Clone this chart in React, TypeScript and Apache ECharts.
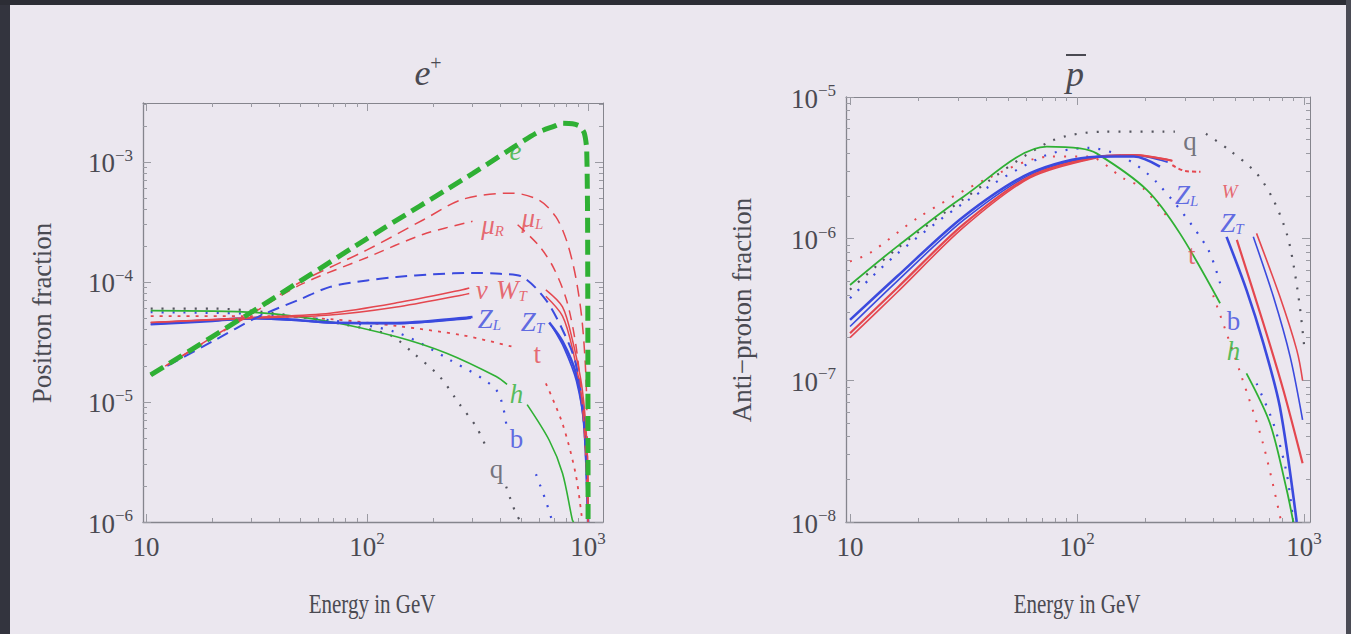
import React, { useEffect, useRef } from "react";
import * as echarts from "echarts";

// ---------- Left panel: positron fraction vs energy (GeV) ----------
const eE = [10.5, 30, 100, 300, 580, 700, 766, 850, 910, 960, 985, 995, 1000];
const eF = [1.68e-5, 5.6e-5, 2.3e-4, 8.0e-4, 1.73e-3, 1.98e-3, 2.1e-3, 2.08e-3, 2.0e-3, 1.75e-3, 1.3e-3, 3e-4, 1e-6];

const muLE = [10.5, 30, 50, 100, 180, 272, 456, 600, 714, 800, 879, 942, 982, 1000];
const muLF = [1.68e-5, 5.5e-5, 1.0e-4, 1.85e-4, 3.3e-4, 4.9e-4, 5.5e-4, 4.8e-4, 3.5e-4, 2.2e-4, 1.1e-4, 4.5e-5, 1.3e-5, 1e-6];

const muRE = [10.5, 30, 50, 100, 180, 300, null, 480, 600, 700, 800, 880, 940, 980, 1000];
const muRF = [1.68e-5, 5.4e-5, 9.5e-5, 1.6e-4, 2.5e-4, 3.2e-4, null, 3.0e-4, 2.0e-4, 1.3e-4, 7e-5, 3e-5, 1e-5, 3e-6, 1e-6];

const tauE = [10.5, 20, 32, 50, 68, 100, 136, 200, 301, 400, 506, 644, 766, 879, 959, 1000];
const tauF = [1.68e-5, 3.2e-5, 5.1e-5, 7.2e-5, 9.1e-5, 1.03e-4, 1.1e-4, 1.16e-4, 1.19e-4, 1.17e-4, 1.1e-4, 7.1e-5, 4.0e-5, 2.1e-5, 6.6e-6, 1e-6];

const nuE = [10.5, 32, 68, 136, 270, 290, null, 644, 766, 849, 942, 993, 1000];
const nuF = [4.6e-5, 5.1e-5, 5.5e-5, 6.7e-5, 8.6e-5, 8.9e-5, null, 8.6e-5, 6.2e-5, 3.3e-5, 1.26e-5, 3.5e-6, 1e-6];

const wtE = [10.5, 32, 68, 136, 270, 290, null, 644, 766, 849, 942, 993, 1000];
const wtF = [4.6e-5, 5.0e-5, 5.3e-5, 6.2e-5, 7.8e-5, 8.0e-5, null, 7.6e-5, 5.2e-5, 2.8e-5, 1.0e-5, 3e-6, 1e-6];

const zlE = [10.5, 20, 32, 50, 68, 136, 270, 300, null, 667, 766, 880, 959, 1000];
const zlF = [4.5e-5, 4.8e-5, 5.0e-5, 4.8e-5, 4.6e-5, 4.55e-5, 5.0e-5, 5.1e-5, null, 4.6e-5, 3.2e-5, 1.74e-5, 6.7e-6, 1e-6];

const ztE = [10.5, 20, 32, 50, 68, 136, 270, 295, null, 690, 780, 885, 962, 1000];
const ztF = [4.4e-5, 4.7e-5, 4.95e-5, 4.75e-5, 4.55e-5, 4.5e-5, 4.9e-5, 5.0e-5, null, 4.2e-5, 2.8e-5, 1.5e-5, 6e-6, 1e-6];

const tE = [10.5, 32, 68, 136, 270, 450, null, 644, 766, 879, 942];
const tF = [5.2e-5, 5.2e-5, 4.9e-5, 4.3e-5, 3.6e-5, 2.9e-5, null, 1.43e-5, 6.6e-6, 2.5e-6, 1e-6];

const hE = [10.5, 32, 68, 136, 229, 384, 430, null, 530, 667, 766, 849, 860];
const hF = [5.77e-5, 5.55e-5, 4.67e-5, 3.5e-5, 2.55e-5, 1.63e-5, 1.4e-5, null, 9.5e-6, 4.8e-6, 2.55e-6, 1.04e-6, 1e-6];

const qE = [10.5, 20, 32, 50, 80, 127, 162, 213, 262, 312, 346, null, 426, 472, 498];
const qF = [6.0e-5, 6.0e-5, 5.7e-5, 5.1e-5, 4.4e-5, 3.6e-5, 2.55e-5, 1.63e-5, 9.6e-6, 6.2e-6, 4.2e-6, null, 1.97e-6, 1.17e-6, 1e-6];

const bE = [10.5, 32, 68, 136, 237, 384, 426, null, 581, 644, 690];
const bF = [5.6e-5, 5.4e-5, 4.8e-5, 3.8e-5, 2.24e-5, 1.26e-5, 6.6e-6, null, 2.5e-6, 1.5e-6, 1e-6];

// ---------- Right panel: anti-proton fraction vs energy (GeV) ----------
const pqE = [10, 15.8, 31.6, 75.9, 132, 240, 270, null, 370, 468, 617, 733, 839, 897, 959, 1000];
const pqF = [4.37e-7, 8.3e-7, 1.9e-6, 4.84e-6, 5.69e-6, 5.69e-6, 5.7e-6, null, 5.5e-6, 4.23e-6, 2.9e-6, 1.88e-6, 1.09e-6, 6.7e-7, 3.3e-7, 1.8e-7];

const phE = [10, 16.1, 31.6, 73.5, 103, 122, 203, 284, 427, null, 558, 708, 839, 897];
const phF = [4.71e-7, 8.79e-7, 1.98e-6, 4.46e-6, 4.34e-6, 4.0e-6, 2.21e-6, 1.09e-6, 3.5e-7, null, 1.12e-7, 4.98e-8, 1.69e-8, 1.0e-8];

const pzlE = [10, 16.1, 31.6, 62.1, 122, 178, 232, null, 456, 558, 662, 783, 929];
const pzlF = [2.67e-7, 5.4e-7, 1.43e-6, 2.9e-6, 3.79e-6, 3.8e-6, 3.23e-6, null, 1.03e-6, 4.35e-7, 1.83e-7, 6.5e-8, 1e-8];

const pwE = [10, 16.1, 31.6, 62.1, 122, 178, 263, null, 506, 662, 811, 986];
const pwF = [2.15e-7, 4.47e-7, 1.26e-6, 2.75e-6, 3.76e-6, 3.89e-6, 3.55e-6, null, 9.8e-7, 2.53e-7, 8.55e-8, 2.6e-8];

const pztE = [10, 16.1, 31.6, 62.1, 122, 178, 251, null, 598, 733, 869, 986];
const pztF = [2.4e-7, 5.0e-7, 1.35e-6, 2.82e-6, 3.8e-6, 3.89e-6, 3.47e-6, null, 1.03e-6, 3.9e-7, 1.47e-7, 5.26e-8];

const pwtE = [10, 16.1, 31.6, 62.1, 122, 178, 263, null, 618, 783, 929, 986];
const pwtF = [2.0e-7, 4.17e-7, 1.2e-6, 2.69e-6, 3.72e-6, 3.89e-6, 3.55e-6, null, 1.09e-6, 3.9e-7, 1.64e-7, 1.0e-7];

const pwdE = [263, 300, 350];
const pwdF = [3.3e-6, 3.0e-6, 2.97e-6];

const ptE = [10, 12.2, 20, 39.8, 75.9, 112, 160, 196, 251, null, 398, 525, 661, 794];
const ptF = [6.9e-7, 7.9e-7, 1.41e-6, 2.63e-6, 3.8e-6, 3.8e-6, 2.67e-6, 2.26e-6, 1.41e-6, null, 3.98e-7, 1.12e-7, 3.55e-8, 1e-8];

const pbE = [10, 15.8, 31.6, 70.8, 112, 158, 224, 372, 427, null, 618, 733, 839, 897];
const pbF = [3.8e-7, 7.6e-7, 1.78e-6, 3.8e-6, 4.37e-6, 3.8e-6, 2.51e-6, 8.8e-7, 4.84e-7, null, 9.5e-8, 4.98e-8, 2.21e-8, 1e-8];

// ---------- Curve labels ----------
const leftLabels = [
  { E: 469, F: 1.26e-3, text: "{a|e}", color: "green" },
  { E: 370, F: 3.1e-4, text: "{a|μ}{sb|R}", color: "red" },
  { E: 560, F: 3.48e-4, text: "{a|μ}{sb|L}", color: "red" },
  { E: 330, F: 8.9e-5, text: "{a|ν}", color: "red" },
  { E: 450, F: 8.9e-5, text: "{a|W}{sb|T}", color: "red" },
  { E: 358, F: 5.1e-5, text: "{a|Z}{sb|L}", color: "blue" },
  { E: 560, F: 4.8e-5, text: "{a|Z}{sb|T}", color: "blue" },
  { E: 589, F: 2.56e-5, text: "{u|t}", color: "red" },
  { E: 474, F: 1.19e-5, text: "{a|h}", color: "green" },
  { E: 474, F: 5.1e-6, text: "{u|b}", color: "blue" },
  { E: 385, F: 2.87e-6, text: "{u|q}", color: "dark" },
];
const rightLabels = [
  { E: 315, F: 4.98e-6, text: "{u|q}", color: "dark" },
  { E: 304, F: 2.09e-6, text: "{a|Z}{sb|L}", color: "blue" },
  { E: 470, F: 2.2e-6, text: "{w|W}", color: "red" },
  { E: 481, F: 1.32e-6, text: "{a|Z}{sb|T}", color: "blue" },
  { E: 320, F: 7.9e-7, text: "{u|t}", color: "red" },
  { E: 489, F: 2.67e-7, text: "{u|b}", color: "blue" },
  { E: 489, F: 1.64e-7, text: "{a|h}", color: "green" },
];

// ---------- Axis ticks ----------
const xMajor = [10, 100, 1000];
const xMinor = [20, 30, 40, 50, 60, 70, 80, 90, 200, 300, 400, 500, 600, 700, 800, 900];
const yLMajor = [1e-6, 1e-5, 1e-4, 1e-3];
const yLMinor = [2e-6, 3e-6, 4e-6, 5e-6, 6e-6, 7e-6, 8e-6, 9e-6, 2e-5, 3e-5, 4e-5, 5e-5, 6e-5, 7e-5, 8e-5, 9e-5, 2e-4, 3e-4, 4e-4, 5e-4, 6e-4, 7e-4, 8e-4, 9e-4, 2e-3, 3e-3];
const yRMajor = [1e-8, 1e-7, 1e-6, 1e-5];
const yRMinor = [2e-8, 3e-8, 4e-8, 5e-8, 6e-8, 7e-8, 8e-8, 9e-8, 2e-7, 3e-7, 4e-7, 5e-7, 6e-7, 7e-7, 8e-7, 9e-7, 2e-6, 3e-6, 4e-6, 5e-6, 6e-6, 7e-6, 8e-6, 9e-6];

const FONT = '"Liberation Serif", "Times New Roman", serif';
const INK = "#4a4a52";
const FRAME = "#85858d";
const TICK = "#9a9aa2";
const COLORS: Record<string, string> = { red: "#e4474f", blue: "#3b4ade", green: "#2fb034", dark: "#55555f" };
const BG = "#ebe7ef";

function pts(E: (number | null)[], F: (number | null)[]) {
  return E.map((x, i) => (x === null || F[i] === null ? ["-", "-"] : [x, F[i]]));
}

function line(g: number, E: any[], F: any[], color: string, width: number, type: any, z = 3, smooth = 0.3) {
  return {
    type: "line",
    xAxisIndex: 4 * g,
    yAxisIndex: 4 * g,
    data: pts(E, F),
    symbol: "none",
    showSymbol: false,
    smooth,
    connectNulls: false,
    silent: true,
    clip: true,
    z,
    lineStyle: { color, width, type, cap: "butt" },
  };
}

function labelSeries(g: number, labels: any[]) {
  return {
    type: "scatter",
    xAxisIndex: 4 * g,
    yAxisIndex: 4 * g,
    symbolSize: 1,
    itemStyle: { color: "rgba(0,0,0,0)" },
    silent: true,
    z: 6,
    data: labels.map((l) => {
      const c = COLORS[l.color];
      return {
        value: [l.E, l.F],
        label: {
          show: true,
          position: "inside",
          formatter: l.text,
          rich: {
            a: { fontFamily: FONT, fontStyle: "italic", fontSize: 27, color: c, verticalAlign: "bottom", lineHeight: 30 },
            u: { fontFamily: FONT, fontSize: 27, color: c, verticalAlign: "bottom", lineHeight: 30 },
            w: { fontFamily: FONT, fontStyle: "italic", fontSize: 19, color: c, verticalAlign: "bottom", lineHeight: 22 },
            sb: { fontFamily: FONT, fontStyle: "italic", fontSize: 15, color: c, verticalAlign: "bottom" },
          },
        },
      };
    }),
  };
}

const labelRich = {
  n: { fontFamily: FONT, fontSize: 27, color: INK, verticalAlign: "bottom", lineHeight: 30 },
  s: { fontFamily: FONT, fontSize: 17, color: INK, verticalAlign: "top" },
};

function xFmt(v: number) {
  const p = Math.round(Math.log10(v));
  return p === 1 ? "{n|10}" : "{n|10}{s|" + p + "}";
}
function yFmt(v: number) {
  const p = Math.round(Math.log10(v));
  return "{n|10}{s|−" + -p + "}";
}

function axes(g: number, dim: "x" | "y", min: number, max: number, major: number[], minor: number[], fmt: any, margin: number) {
  const common: any = { type: "log", logBase: 10, gridIndex: g, min, max, splitLine: { show: false }, silent: true };
  const posA = dim === "x" ? "bottom" : "left";
  const posB = dim === "x" ? "top" : "right";
  return [
    {
      ...common,
      position: posA,
      axisLine: { show: true, onZero: false, lineStyle: { color: FRAME, width: 1.3 } },
      axisTick: { show: true, inside: true, length: 8, customValues: major, lineStyle: { color: TICK } },
      axisLabel: { show: true, customValues: major, formatter: fmt, rich: labelRich, margin },
    },
    {
      ...common,
      position: posA,
      axisLine: { show: false, onZero: false },
      axisTick: { show: true, inside: true, length: 4, customValues: minor, lineStyle: { color: TICK } },
      axisLabel: { show: false, customValues: minor },
    },
    {
      ...common,
      position: posB,
      axisLine: { show: true, onZero: false, lineStyle: { color: FRAME, width: 1 } },
      axisTick: { show: true, inside: true, length: 8, customValues: major, lineStyle: { color: TICK } },
      axisLabel: { show: false, customValues: major },
    },
    {
      ...common,
      position: posB,
      axisLine: { show: false, onZero: false },
      axisTick: { show: true, inside: true, length: 4, customValues: minor, lineStyle: { color: TICK } },
      axisLabel: { show: false, customValues: minor },
    },
  ];
}

export default function App() {
  const ref = useRef<HTMLDivElement>(null);
  useEffect(() => {
    if (!ref.current) return;
    const chart = echarts.init(ref.current, null, { renderer: "svg" });
    const R = COLORS.red, B = COLORS.blue, G = COLORS.green, D = COLORS.dark;
    const option: any = {
      animation: false,
      backgroundColor: BG,
      grid: [
        { left: 143, top: 103, width: 460, height: 419, containLabel: false },
        { left: 846, top: 97, width: 464, height: 425, containLabel: false },
      ],
      xAxis: [
        ...axes(0, "x", 9.69, 1168, xMajor, xMinor, xFmt, 8),
        ...axes(1, "x", 9.6, 1063, xMajor, xMinor, xFmt, 8),
      ],
      yAxis: [
        ...axes(0, "y", 1e-6, 3.1e-3, yLMajor, yLMinor, yFmt, 10),
        ...axes(1, "y", 1e-8, 1e-5, yRMajor, yRMinor, yFmt, 10),
      ],
      series: [
        // left
        line(0, qE, qF, D, 2.2, [2, 9]),
        line(0, bE, bF, B, 2.2, [2, 9]),
        line(0, tE, tF, R, 1.8, [3, 6]),
        line(0, hE, hF, G, 1.6, "solid"),
        line(0, ztE, ztF, B, 1.6, "solid"),
        line(0, zlE, zlF, B, 2.6, "solid"),
        line(0, wtE, wtF, R, 1.5, "solid"),
        line(0, nuE, nuF, R, 1.5, "solid"),
        line(0, tauE, tauF, B, 2, [12, 7]),
        line(0, muRE, muRF, R, 1.5, [10, 7]),
        line(0, muLE, muLF, R, 1.5, [12, 7]),
        line(0, eE, eF, G, 5, [15, 7], 5, 0.2),
        labelSeries(0, leftLabels),
        // right
        line(1, pqE, pqF, D, 2.2, [2, 9]),
        line(1, pbE, pbF, B, 2.2, [2, 9]),
        line(1, ptE, ptF, R, 2, [2, 9]),
        line(1, phE, phF, G, 1.8, "solid"),
        line(1, pwtE, pwtF, R, 1.6, "solid"),
        line(1, pztE, pztF, B, 1.6, "solid"),
        line(1, pwE, pwF, R, 2.2, "solid"),
        line(1, pzlE, pzlF, B, 2.6, "solid"),
        line(1, pwdE, pwdF, R, 2, [4, 3]),
        labelSeries(1, rightLabels),
      ],
      graphic: [
        { type: "rect", shape: { x: 0, y: 0, width: 10, height: 634 }, style: { fill: "#33343e" }, silent: true },
        { type: "rect", shape: { x: 0, y: 0, width: 1351, height: 5 }, style: { fill: "#2c2d35" }, silent: true },
        { type: "rect", shape: { x: 1346, y: 0, width: 5, height: 634 }, style: { fill: "#4a4b55" }, silent: true },
        {
          type: "text",
          x: 428,
          y: 72,
          style: {
            text: "{i|e}{s|+}",
            align: "center",
            verticalAlign: "middle",
            rich: {
              i: { fontFamily: FONT, fontStyle: "italic", fontSize: 36, fill: INK, verticalAlign: "bottom", lineHeight: 38 },
              s: { fontFamily: FONT, fontSize: 20, fill: INK, verticalAlign: "top" },
            },
          },
          silent: true,
        },
        {
          type: "text",
          x: 1075,
          y: 74,
          style: { text: "p", fontFamily: FONT, fontStyle: "italic", fontSize: 36, fill: INK, align: "center", verticalAlign: "middle" },
          silent: true,
        },
        { type: "line", shape: { x1: 1066, y1: 55, x2: 1086, y2: 55 }, style: { stroke: INK, lineWidth: 2 }, silent: true },
        {
          type: "text",
          x: 42,
          y: 313,
          rotation: Math.PI / 2,
          style: { text: "Positron fraction", fontFamily: FONT, fontSize: 27, fill: INK, align: "center", verticalAlign: "middle" },
          silent: true,
        },
        {
          type: "text",
          x: 742,
          y: 310,
          rotation: Math.PI / 2,
          style: { text: "Anti−proton fraction", fontFamily: FONT, fontSize: 27, fill: INK, align: "center", verticalAlign: "middle" },
          silent: true,
        },
        {
          type: "text",
          x: 372,
          y: 604,
          scaleY: 1.25,
          style: { text: "Energy in GeV", fontFamily: FONT, fontSize: 21, fill: INK, align: "center", verticalAlign: "middle" },
          silent: true,
        },
        {
          type: "text",
          x: 1077,
          y: 604,
          scaleY: 1.25,
          style: { text: "Energy in GeV", fontFamily: FONT, fontSize: 21, fill: INK, align: "center", verticalAlign: "middle" },
          silent: true,
        },
      ],
    };
    chart.setOption(option);
    return () => chart.dispose();
  }, []);
  return (
    <div style={{ position: "fixed", left: 0, top: 0, width: 1351, height: 634, margin: 0 }}>
      <div ref={ref} style={{ width: 1351, height: 634 }} />
    </div>
  );
}
